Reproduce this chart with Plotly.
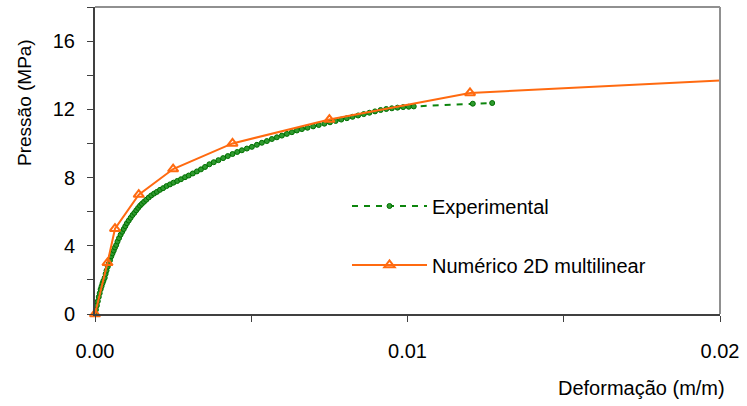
import plotly.graph_objects as go

# Experimental data (strain m/m, pressure MPa)
exp_x = [0.00000, 0.00003, 0.00006, 0.00009, 0.00012, 0.00015, 0.00018, 0.00021, 0.00024, 0.00027,
         0.00031, 0.00034, 0.00037, 0.00041, 0.00044, 0.00048, 0.00052, 0.00056, 0.00060, 0.00064,
         0.00068, 0.00072, 0.00077, 0.00082, 0.00087, 0.00092, 0.00097, 0.00102, 0.00108, 0.00114,
         0.00120, 0.00126, 0.00132, 0.00138, 0.00144, 0.00150, 0.00157, 0.00164, 0.00172, 0.00180,
         0.00189, 0.00198, 0.00208, 0.00218, 0.00229, 0.00240, 0.00251, 0.00263, 0.00275, 0.00288,
         0.00300, 0.00313, 0.00326, 0.00339, 0.00352, 0.00366, 0.00380, 0.00395, 0.00410, 0.00425,
         0.00440, 0.00455, 0.00470, 0.00486, 0.00502, 0.00518, 0.00534, 0.00550, 0.00566, 0.00582,
         0.00598, 0.00614, 0.00630, 0.00646, 0.00662, 0.00680, 0.00698, 0.00716, 0.00734, 0.00752,
         0.00770, 0.00788, 0.00806, 0.00824, 0.00842, 0.00860, 0.00878, 0.00896, 0.00914, 0.00932,
         0.00950, 0.00968, 0.00986, 0.01004, 0.01020, 0.01209, 0.01271]
exp_y = [0.00, 0.25, 0.50, 0.75, 1.00, 1.22, 1.45, 1.62, 1.80, 1.95,
         2.12, 2.35, 2.55, 2.78, 2.95, 3.15, 3.38, 3.55, 3.72, 3.90,
         4.05, 4.25, 4.45, 4.65, 4.82, 4.98, 5.15, 5.32, 5.48, 5.64,
         5.80, 5.93, 6.08, 6.22, 6.35, 6.46, 6.58, 6.70, 6.83, 6.95,
         7.06, 7.16, 7.28, 7.38, 7.50, 7.60, 7.70, 7.80, 7.90, 8.02,
         8.12, 8.24, 8.36, 8.48, 8.62, 8.78, 8.90, 9.02, 9.14, 9.26,
         9.38, 9.50, 9.60, 9.70, 9.80, 9.92, 10.04, 10.14, 10.26, 10.36,
         10.46, 10.56, 10.66, 10.76, 10.84, 10.92, 11.00, 11.08, 11.16, 11.24,
         11.32, 11.40, 11.48, 11.56, 11.64, 11.72, 11.80, 11.88, 11.96, 12.02,
         12.06, 12.10, 12.13, 12.15, 12.17, 12.33, 12.37]

# Numerical 2D multilinear model
num_x = [0.0, 0.0004, 0.00064, 0.0014, 0.0025, 0.0044, 0.0075, 0.0120, 0.0300]
num_y = [0.0, 3.0, 5.0, 7.0, 8.5, 10.0, 11.4, 12.96, 14.6]

x_ticks = [0.0, 0.01, 0.02]
x_ticklabels = ["0.00", "0.01", "0.02"]
y_ticks = [0, 4, 8, 12, 16]

GREEN = "#0d850d"
ORANGE = "#ff6a10"
FONT = "Liberation Sans, Arial, sans-serif"

fig = go.Figure()

fig.add_trace(go.Scatter(
    x=exp_x, y=exp_y, mode="lines+markers", name="Experimental",
    line=dict(color=GREEN, width=2, dash="6px,6px"),
    marker=dict(symbol="circle", size=5, color="#2f9a2f", line=dict(color="#007000", width=1)),
    cliponaxis=False, legend="legend",
))

# line segment continuing past the axis end (clipped)
fig.add_trace(go.Scatter(
    x=num_x[-2:], y=num_y[-2:], mode="lines", showlegend=False,
    line=dict(color=ORANGE, width=2), hoverinfo="skip",
))
fig.add_trace(go.Scatter(
    x=num_x[:-1], y=num_y[:-1], mode="lines+markers", name="Numérico 2D multilinear",
    line=dict(color=ORANGE, width=2),
    marker=dict(symbol="triangle-up-open", size=9, color=ORANGE, line=dict(color=ORANGE, width=2)),
    cliponaxis=False, legend="legend2",
))

W, H = 747, 406
L, R, T, B = 95, 27, 7, 92
PW, PH = W - L - R, H - T - B

fig.update_layout(
    width=W, height=H,
    margin=dict(l=L, r=R, t=T, b=B, autoexpand=False),
    paper_bgcolor="white", plot_bgcolor="white",
    font=dict(family=FONT, size=18, color="#000000"),
    xaxis=dict(
        range=[0, 0.02], tickvals=x_ticks, ticktext=x_ticklabels,
        showgrid=False, zeroline=False,
        showline=True, linecolor="#404040", linewidth=2,
        ticks="outside", ticklen=6, tickwidth=1, tickcolor="#404040",
        minor=dict(dtick=0.005, ticks="outside", ticklen=6, tickcolor="#404040", showgrid=False),
        tickfont=dict(size=20), ticklabelstandoff=12,
    ),
    yaxis=dict(
        range=[0, 18], tickvals=y_ticks,
        showgrid=False, zeroline=False,
        showline=True, linecolor="#404040", linewidth=2,
        ticks="outside", ticklen=6, tickwidth=1, tickcolor="#404040",
        minor=dict(dtick=2, ticks="outside", ticklen=6, tickcolor="#404040", showgrid=False),
        tickfont=dict(size=20), ticklabelstandoff=8,
    ),
    legend=dict(
        x=(347 - L) / PW, y=(314 - 206) / PH, xanchor="left", yanchor="middle",
        bgcolor="rgba(0,0,0,0)", font=dict(size=20, family=FONT), itemwidth=75,
    ),
    legend2=dict(
        x=(347 - L) / PW, y=(314 - 265) / PH, xanchor="left", yanchor="middle",
        bgcolor="rgba(0,0,0,0)", font=dict(size=20, family=FONT), itemwidth=75,
    ),
    shapes=[
        dict(type="line", xref="paper", yref="paper", x0=0, x1=1, y0=1, y1=1,
             line=dict(color="#909090", width=2)),
        dict(type="line", xref="paper", yref="paper", x0=1, x1=1, y0=0, y1=1,
             line=dict(color="#909090", width=2)),
    ],
    annotations=[
        dict(text="Pressão (MPa)", xref="paper", yref="paper",
             x=(24 - L) / PW, y=(314 - 103) / PH,
             xanchor="center", yanchor="middle", textangle=-90, showarrow=False,
             font=dict(size=19, family=FONT)),
        dict(text="Deformação (m/m)", xref="paper", yref="paper",
             x=(727 - L) / PW, y=(314 - 388) / PH,
             xanchor="right", yanchor="middle", showarrow=False,
             font=dict(size=20, family=FONT)),
    ],
)

fig.write_html("out.html", config={"displayModeBar": False},
               post_script="document.body.style.margin='0';")
